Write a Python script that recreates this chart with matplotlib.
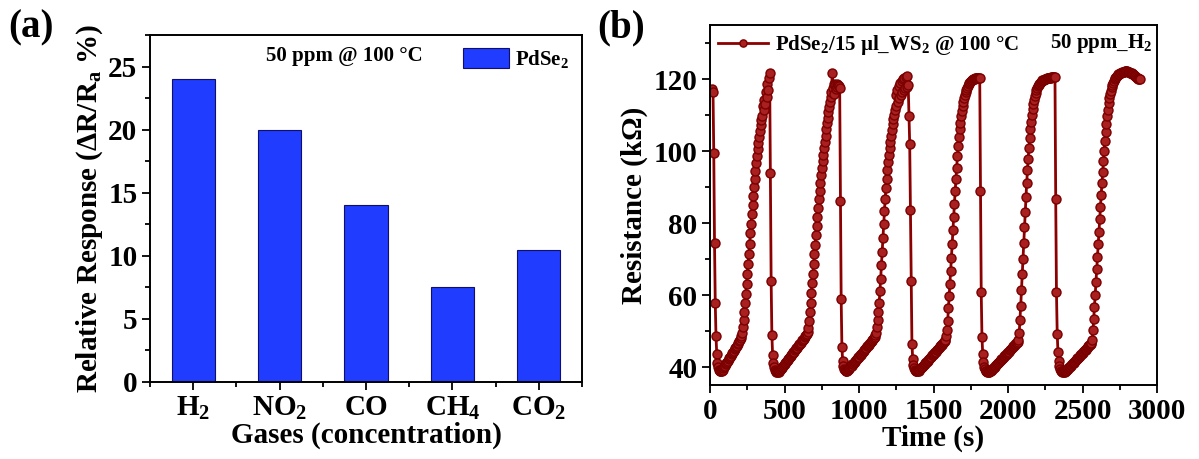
import numpy as np
import matplotlib.pyplot as plt
from matplotlib.ticker import MultipleLocator, AutoMinorLocator

# (a) relative response to 50 ppm of each gas at 100 °C
gases = ['H$_\\mathrm{2}$', 'NO$_\\mathrm{2}$', 'CO', 'CH$_\\mathrm{4}$', 'CO$_\\mathrm{2}$']
response = [24, 20, 14, 7.5, 10.5]

# (b) resistance (kOhm), one sample every 5 s starting at t = 15 s
resistance = [
    # cycle 1
    117.3, 116.3, 99.4, 74.4, 57.7, 48.5, 43.5, 41.2, 40.0, 39.3, 39.0, 38.9, 38.9,
    39.0, 39.3, 39.6, 40.0, 40.3, 40.7, 41.0, 41.4, 41.7, 42.1, 42.4, 42.8, 43.1,
    43.5, 43.8, 44.2, 44.5, 44.9, 45.2, 45.6, 45.9, 46.3, 46.7, 47.1, 47.5, 48.0,
    48.6, 49.5,
    51.0, 53.0, 55.3, 57.8, 60.4, 63.1, 65.9, 68.7, 71.5, 74.3, 77.1, 79.8, 82.5,
    85.1, 87.6, 90.0, 92.3, 94.5, 96.6, 98.6, 100.5, 102.3, 104.0, 105.6, 107.1,
    108.5, 109.8,
    112.5, 111.4, 114.2, 113.0, 116.4, 115.1, 118.6, 117.0, 120.2, 121.6,
    94.0, 64.0, 48.8, 43.3, 41.2, 40.0, 39.3, 38.9, 38.7, 38.6, 38.6, 38.7,
    # cycle 2
    38.9, 39.1, 39.4, 39.7, 39.9, 40.2, 40.5, 40.8, 41.0, 41.3, 41.6, 41.9, 42.1,
    42.4, 42.7, 43.0, 43.2, 43.5, 43.8, 44.1, 44.3, 44.6, 44.9, 45.2, 45.4, 45.7,
    46.0, 46.3, 46.5, 46.8, 47.1, 47.4, 47.6, 47.9, 48.2, 48.5, 48.8, 49.2, 49.7,
    50.8, 52.8, 55.2, 57.8, 60.5, 63.2, 65.9, 68.7, 71.4, 74.0, 76.7, 79.3, 81.8,
    84.2, 86.6, 88.9, 91.1, 93.2, 95.2, 97.1, 99.0, 100.8, 102.6, 104.3, 106.0,
    107.7, 109.3, 110.8, 112.3, 113.7, 115.0, 116.5,
    121.7, 117.4, 118.6, 115.9, 118.3, 117.2, 118.6, 117.8, 118.4, 118.0, 117.6,
    86.2, 59.0, 45.5, 41.8, 40.2, 39.4, 39.1, 39.0,
    # cycle 3
    38.9, 39.0, 39.2, 39.4, 39.7, 39.9, 40.2, 40.4, 40.7, 40.9, 41.2, 41.4, 41.7,
    41.9, 42.2, 42.4, 42.7, 42.9, 43.2, 43.4, 43.7, 43.9, 44.2, 44.4, 44.7, 44.9,
    45.2, 45.4, 45.7, 45.9, 46.2, 46.4, 46.7, 46.9, 47.2, 47.4, 47.7, 48.0, 48.3,
    48.8,
    49.5, 51.0, 53.0, 55.2, 57.8, 61.0, 64.5, 68.2, 72.0, 75.8, 79.6, 83.2, 86.6,
    89.6, 92.3, 94.7, 96.9, 98.9, 100.8, 102.6, 104.3, 105.9, 107.4, 108.8, 110.1,
    111.3,
    115.5, 112.4, 117.0, 113.5, 118.0, 114.6, 118.9, 115.5, 119.5, 116.3, 120.0,
    116.9, 120.3, 117.4, 120.6, 117.8, 120.9, 118.2,
    109.8, 102.0, 83.5, 64.0, 46.5, 42.3, 40.6, 39.8, 39.3, 39.0, 38.9, 38.8,
    # cycle 4
    38.9, 39.0, 39.2, 39.4, 39.7, 39.9, 40.1, 40.4, 40.6, 40.8, 41.1, 41.3, 41.5,
    41.8, 42.0, 42.2, 42.5, 42.7, 42.9, 43.2, 43.4, 43.6, 43.9, 44.1, 44.3, 44.6,
    44.8, 45.0, 45.3, 45.5, 45.7, 46.0, 46.2, 46.4, 46.7, 46.9, 47.2, 47.6,
    48.6, 50.2, 52.9, 56.3, 59.7, 63.1, 66.7, 70.4, 74.2, 78.0, 81.7, 85.3, 88.8,
    92.2, 95.4, 98.5, 101.3, 103.8, 106.0, 107.9, 109.6, 111.1, 112.4, 113.6,
    114.6, 115.5, 116.3, 117.0, 117.6, 118.1, 118.5, 118.9, 119.2, 119.4, 119.6,
    119.8, 119.9, 120.0, 120.1, 120.2, 120.2, 120.3, 120.3, 120.4, 120.4, 120.4,
    89.0, 60.8, 48.3, 43.7, 41.3, 40.1, 39.4, 39.0, 38.8, 38.7, 38.6, 38.6, 38.7,
    # cycle 5
    38.8, 39.0, 39.2, 39.4, 39.6, 39.8, 40.1, 40.3, 40.5, 40.7, 41.0, 41.2, 41.4,
    41.6, 41.9, 42.1, 42.3, 42.5, 42.8, 43.0, 43.2, 43.4, 43.7, 43.9, 44.1, 44.3,
    44.6, 44.8, 45.0, 45.2, 45.5, 45.7, 45.9, 46.1, 46.4, 46.6, 46.8, 47.0,
    47.6, 49.5, 53.0, 57.0, 61.3, 65.7, 70.1, 74.5, 78.8, 83.0, 87.1, 91.0, 94.6,
    97.9, 100.9, 103.6, 106.0, 108.1, 110.0, 111.7, 113.1, 114.3, 115.3, 116.2,
    116.9, 117.5, 118.0, 118.4, 118.7, 119.0, 119.2, 119.4, 119.6, 119.7, 119.8,
    119.9, 120.0, 120.1, 120.2, 120.2, 120.3, 120.3, 120.4, 120.4, 120.5, 120.5,
    120.5, 120.6, 120.6, 120.6,
    86.7, 60.8, 49.3, 44.2, 41.6, 40.2, 39.4, 39.0, 38.8, 38.7, 38.6, 38.6, 38.7,
    # cycle 6
    38.8, 39.0, 39.2, 39.4, 39.7, 39.9, 40.1, 40.3, 40.6, 40.8, 41.0, 41.2, 41.5,
    41.7, 41.9, 42.1, 42.4, 42.6, 42.8, 43.0, 43.3, 43.5, 43.7, 43.9, 44.2, 44.4,
    44.6, 44.8, 45.1, 45.3, 45.5, 45.7, 46.0, 46.2, 46.4, 46.7,
    47.5, 50.2, 53.4, 56.7, 60.1, 63.6, 67.1, 70.6, 74.1, 77.6, 81.1, 84.5, 87.8,
    91.0, 94.1, 97.1, 100.0, 102.7, 105.2, 107.5, 109.6, 111.5, 113.2, 114.6,
    115.8, 116.8, 117.7, 118.4, 119.0, 119.5, 119.9, 120.3, 120.6, 120.9, 121.1,
    121.3, 121.5, 121.6, 121.7, 121.8, 121.9, 121.9, 122.0, 122.0, 122.1, 122.1,
    122.1, 122.1, 122.0, 122.0, 121.9, 121.8, 121.7, 121.6, 121.4, 121.3, 121.1,
    120.9, 120.8, 120.6, 120.4, 120.3, 120.1, 120.0, 119.9,
]
time_s = 15 + 5 * np.arange(len(resistance))

plt.rcParams['font.family'] = 'Liberation Serif'
plt.rcParams['font.weight'] = 'bold'
plt.rcParams['axes.labelweight'] = 'bold'
plt.rcParams['mathtext.fontset'] = 'custom'
plt.rcParams['mathtext.rm'] = 'Liberation Serif:bold'
plt.rcParams['mathtext.it'] = 'Liberation Serif:italic:bold'
plt.rcParams['mathtext.bf'] = 'Liberation Serif:bold'
plt.rcParams['axes.linewidth'] = 1.4

fig = plt.figure(figsize=(11.99, 4.59), dpi=100)

# ---- panel (a)
ax1 = fig.add_axes([0.1251, 0.1678, 0.3603, 0.7559])
x = np.arange(len(gases))
ax1.bar(x, response, width=0.5, color='#1f3cff', edgecolor='#10106a',
        linewidth=0.8, label='PdSe$_\\mathrm{2}$')
ax1.set_xlim(-0.5, 4.5)
ax1.set_ylim(0, 27.5)
ax1.set_xticks(x)
ax1.set_xticklabels(gases)
ax1.xaxis.set_minor_locator(MultipleLocator(0.5))
ax1.yaxis.set_major_locator(MultipleLocator(5))
ax1.yaxis.set_minor_locator(MultipleLocator(2.5))
ax1.tick_params(which='both', direction='out', width=1.3, labelsize=21, pad=3)
ax1.tick_params(which='major', length=6)
ax1.tick_params(which='minor', length=3.5)
ax1.set_xlabel('Gases (concentration)', fontsize=21, labelpad=0)
ax1.set_ylabel('Relative Response (\u0394R/R$_\\mathrm{a}$ %)', fontsize=21, labelpad=2)
ax1.text(0.449, 0.94, '50 ppm @ 100 \u00b0C', transform=ax1.transAxes,
         ha='center', va='center', fontsize=15)
ax1.legend(loc='upper right', frameon=False, fontsize=15, handlelength=2.2,
           handleheight=1.1, handletextpad=0.3, borderaxespad=0.2)

# ---- panel (b)
ax2 = fig.add_axes([0.5922, 0.1612, 0.3728, 0.7843])
ax2.plot(time_s, resistance, color='#8b0000', lw=2.0, marker='o', ms=6.5,
         mfc='#a82020', mec='#7a0000', mew=1.0,
         label='PdSe$_\\mathrm{2}$/15 \u00b5l_WS$_\\mathrm{2}$ @ 100 \u00b0C')
ax2.set_xlim(0, 3000)
ax2.set_ylim(35, 135)
ax2.xaxis.set_major_locator(MultipleLocator(500))
ax2.xaxis.set_minor_locator(AutoMinorLocator(2))
ax2.yaxis.set_major_locator(MultipleLocator(20))
ax2.yaxis.set_minor_locator(AutoMinorLocator(2))
ax2.tick_params(which='both', direction='out', width=1.3, labelsize=21, pad=3)
ax2.tick_params(which='major', length=6)
ax2.tick_params(which='minor', length=3.5)
ax2.set_xlabel('Time (s)', fontsize=21, labelpad=0)
ax2.set_ylabel('Resistance (k\u03a9)', fontsize=21, labelpad=4)
ax2.text(0.989, 0.95, '50 ppm_H$_\\mathrm{2}$', transform=ax2.transAxes,
         ha='right', va='center', fontsize=15)
ax2.legend(loc='upper left', frameon=False, fontsize=15, handlelength=2.4,
           handletextpad=0.3, borderaxespad=0.2, borderpad=0.2, markerscale=0.8)

fig.text(0.007, 0.94, '(a)', fontsize=28, va='center', ha='left')
fig.text(0.498, 0.94, '(b)', fontsize=28, va='center', ha='left')

fig.savefig('out.png', dpi=100)
